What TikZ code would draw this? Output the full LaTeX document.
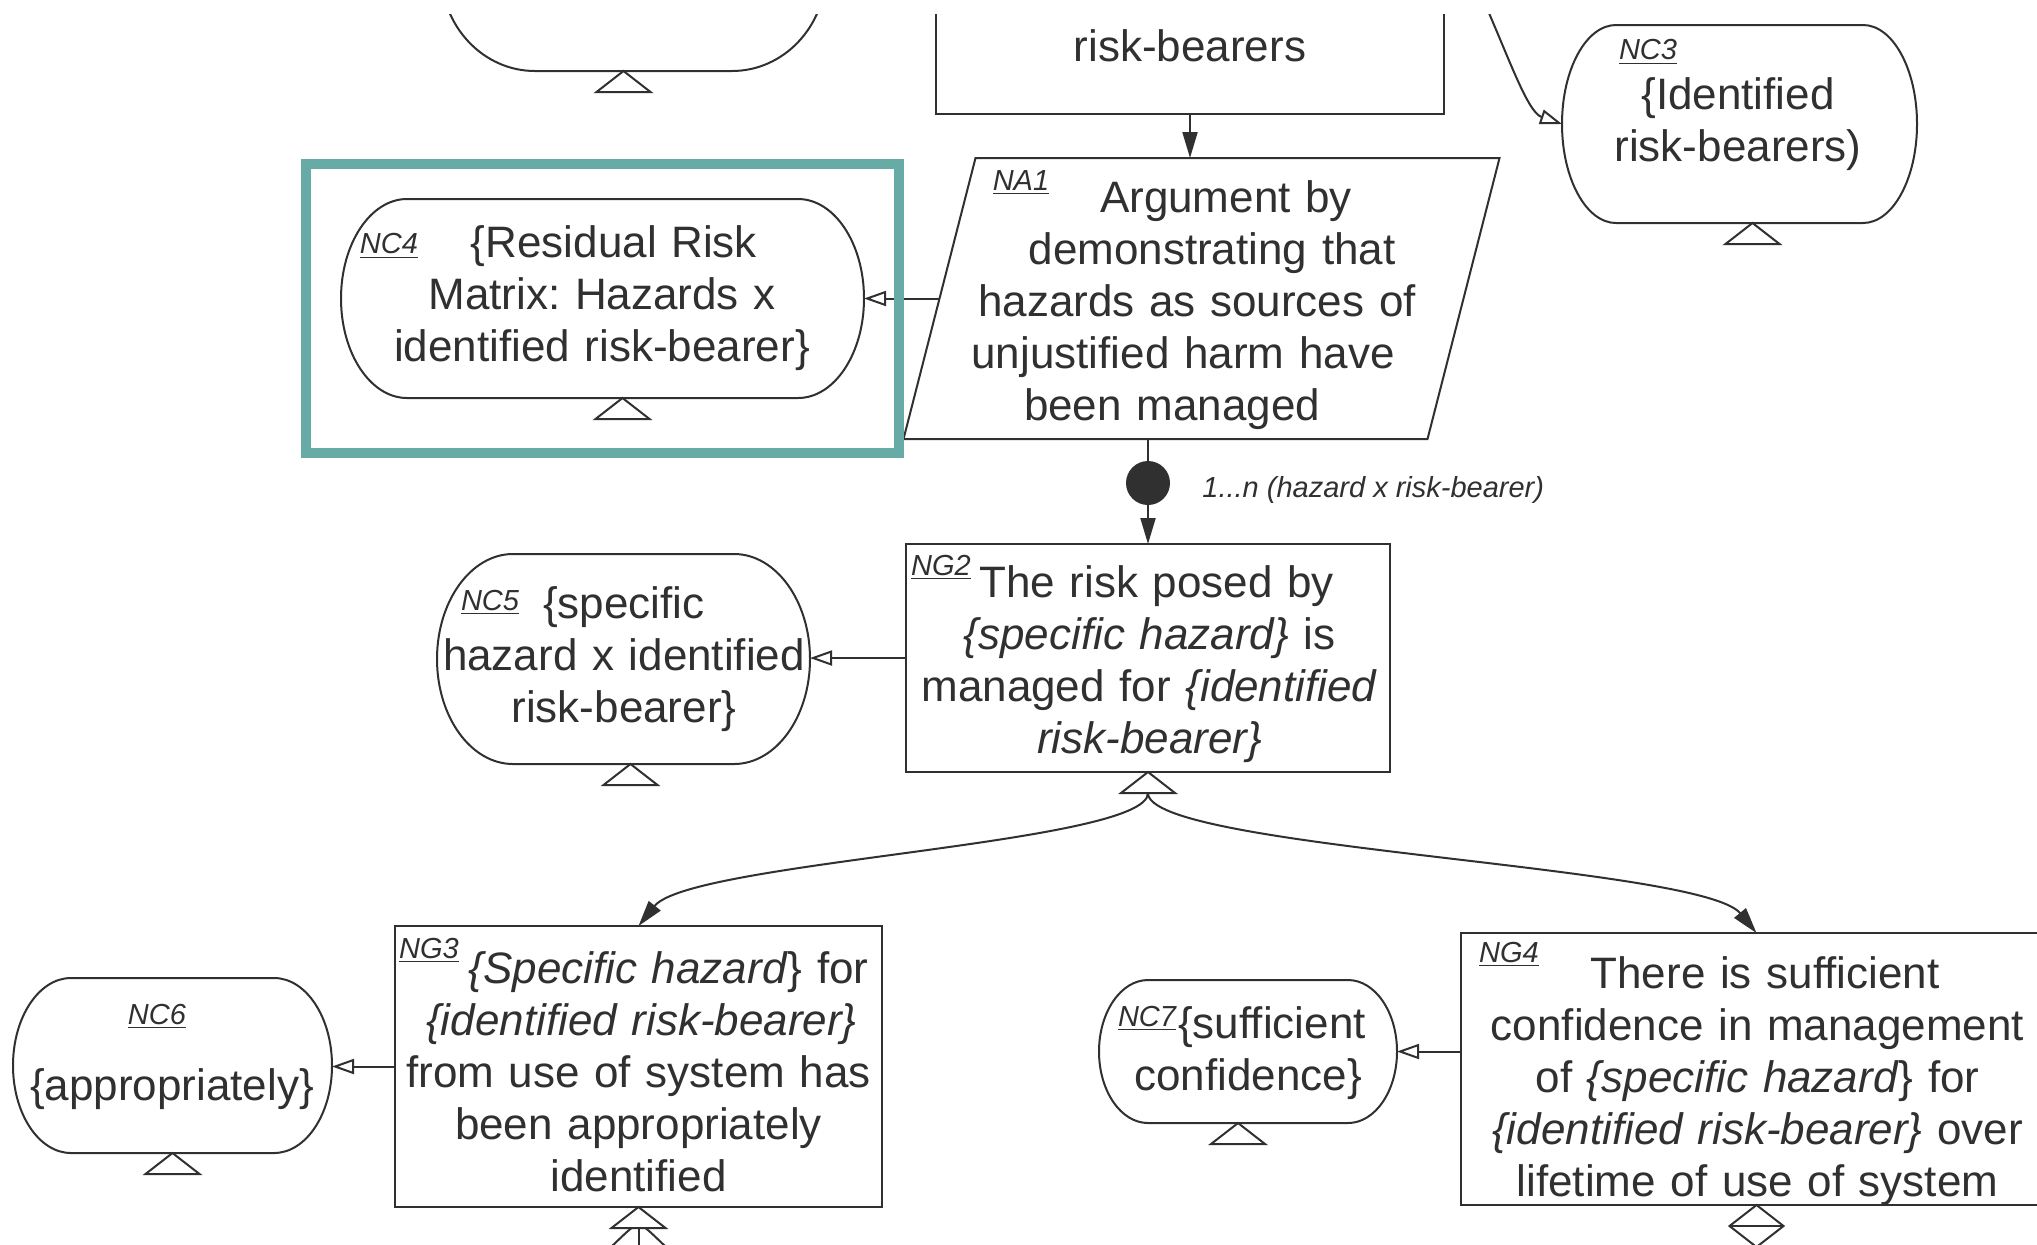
\documentclass[tikz,border=0pt]{standalone}
\usepackage{fontspec}
\setmainfont{Liberation Sans}
\usetikzlibrary{arrows.meta,calc}

\definecolor{ink}{HTML}{303030}
\definecolor{hilite}{HTML}{67ABA6}

% context element: flat top and bottom, half-ellipse ends of x radius #2
\newcommand{\ctxoutline}[2]{%
  \draw[lineink] let \p1=(#1.north west), \p2=(#1.south east), \n1={(\y1-\y2)/2} in
    (\x1+#2,\y1) -- (\x2-#2,\y1)
    arc[start angle=90, end angle=-90, x radius=#2, y radius=\n1]
    -- (\x1+#2,\y2)
    arc[start angle=270, end angle=90, x radius=#2, y radius=\n1] -- cycle;}
% hollow triangle hanging below an element, apex at (#1) shifted sideways by #2
\newcommand{\tribelow}[2]{%
  \draw[lineink] ($(#1)+(#2,0)$) -- ++(-27,21) -- ++(54,0) -- cycle;}

\begin{document}
\begin{tikzpicture}[x=0.5pt, y=-0.5pt,
  lineink/.style={draw=ink, line width=1pt},
  shapebox/.style={inner sep=0pt, outer sep=0pt},
  goalbox/.style={shapebox, lineink},
  ctxbox/.style={shapebox},
  body/.style={font=\fontsize{22}{26}\selectfont\frenchspacing, text=ink, align=center, inner sep=0pt, yshift=-2pt},
  tag/.style={font=\fontsize{14.5}{17}\selectfont\itshape, text=ink, inner sep=0pt},
  solidtip/.style={lineink, -{Triangle[length=13pt, width=7.5pt]}},
  hollowtip/.style={lineink, -{Triangle[open, length=11pt, width=7.5pt]}},
]
\useasboundingbox (0,0) rectangle (2037,1244);
\fill[white] (0,0) rectangle (2037,1244);
\clip (0,14) rectangle (2037,1244);

% ---- upper row (partly outside the frame)
\node[ctxbox, minimum width=192.5pt, minimum height=100pt] (ctxtop) at (633.5,-29) {};
\ctxoutline{ctxtop}{47pt}
\tribelow{ctxtop.south}{-10}

\node[goalbox, minimum width=254pt, minimum height=107pt] (topbox) at (1190,7) {};
\node[body, text width=240pt] (topboxtxt) at (1190,42) {risk-bearers};

\node[ctxbox, minimum width=177.5pt, minimum height=99pt] (nc3) at (1739.5,124) {};
\ctxoutline{nc3}{27pt}
\tribelow{nc3.south}{13}
\node[tag] (nc3tag) at (1648,52) {\underline{NC3}};
\node[body, text width=170pt] (nc3txt) at (1738,120) {\{Identified\\risk-bearers)};

% ---- strategy NA1
\node[shapebox, minimum width=262pt, minimum height=140.5pt] (na1) at (1201.5,298.5) {};
\draw[lineink] ($(na1.north west)+(36,0)$) -- ($(na1.north east)+(36,0)$)
  -- ($(na1.south east)+(-36,0)$) -- ($(na1.south west)+(-36,0)$) -- cycle;
\node[tag] (na1tag) at (1021,183) {\underline{NA1}};
\node[body, text width=250pt] (na1txt) at (1201.5,301.5)
  {\hspace*{24.5pt}Argument by\\\hspace*{10.5pt}demonstrating that\\\hspace*{-4.5pt}hazards as sources of\\\hspace*{-18.5pt}unjustified harm have\\\hspace*{-29.5pt}been managed};

% ---- context NC4
\node[ctxbox, minimum width=261.5pt, minimum height=99.5pt] (nc4) at (602.5,298.5) {};
\ctxoutline{nc4}{33pt}
\tribelow{nc4.south}{20}
\node[tag] (nc4tag) at (389,246) {\underline{NC4}};
\node[body, text width=240pt] (nc4txt) at (602,294)
  {\hspace*{12pt}\{Residual Risk\\Matrix: Hazards x\\identified risk-bearer\}};

% ---- goal NG2 and its context
\node[goalbox, minimum width=242pt, minimum height=114pt] (ng2) at (1148,658) {};
\node[tag] (ng2tag) at (941,567) {\underline{NG2}};
\node[body, text width=236pt] (ng2txt) at (1149.5,660)
  {\hspace*{7pt}The risk posed by\\\textit{\{specific hazard\}} is\\managed for \textit{\{identified}\\\textit{risk-bearer\}}};
\tribelow{ng2.south}{0}
\coordinate (ng2fan) at ($(ng2.south)+(0,21)$);

\node[ctxbox, minimum width=186.5pt, minimum height=105pt] (nc5) at (623.5,659) {};
\ctxoutline{nc5}{38pt}
\tribelow{nc5.south}{7}
\node[tag] (nc5tag) at (490,602) {\underline{NC5}};
\node[body, text width=182pt] (nc5txt) at (624,655) {\{specific\\hazard x identified\\risk-bearer\}};

% ---- multiplicity between NA1 and NG2
\node[shape=circle, fill=ink, minimum size=22pt, inner sep=0pt] (mult) at (1148,483) {};
\node[tag, anchor=west] (multtag) at (1202,490) {1...n (hazard x risk-bearer)};

% ---- goal NG3 and its context
\node[goalbox, minimum width=243.5pt, minimum height=140.5pt] (ng3) at (638.5,1066.5) {};
\node[tag] (ng3tag) at (429,950) {\underline{NG3}};
\node[body, text width=236pt] (ng3txt) at (638.5,1068)
  {\hspace*{30pt}\textit{\{Specific hazard}\} for\\\hspace*{3pt}\textit{\{identified risk-bearer\}}\\from use of system has\\been appropriately\\identified};
\tribelow{ng3.south}{0}
\coordinate (ng3fan) at ($(ng3.south)+(0,20)$);

\node[ctxbox, minimum width=159.5pt, minimum height=87.5pt] (nc6) at (172.5,1065.5) {};
\ctxoutline{nc6}{29pt}
\tribelow{nc6.south}{0}
\node[tag] (nc6tag) at (157,1016) {\underline{NC6}};
\node[body] (nc6txt) at (172,1085) {\{appropriately\}};

% ---- goal NG4 and its context
\node[goalbox, minimum width=295.5pt, minimum height=136pt] (ng4) at (1756.5,1069) {};
\node[tag] (ng4tag) at (1509,954) {\underline{NG4}};
\node[body, text width=285pt] (ng4txt) at (1757.5,1077)
  {\hspace*{7.5pt}There is sufficient\\confidence in management\\of \textit{\{specific hazard}\} for\\\textit{\{identified risk-bearer\}} over\\lifetime of use of system};
\draw[lineink] (ng4.south) -- ++(-27,21) -- ++(27,21) -- ++(27,-21) -- cycle;
\draw[lineink] ($(ng4.south)+(-27,21)$) -- ++(54,0);

\node[ctxbox, minimum width=149pt, minimum height=71.5pt] (nc7) at (1248,1051.5) {};
\ctxoutline{nc7}{24.5pt}
\tribelow{nc7.south}{-10}
\node[tag] (nc7tag) at (1147,1018) {\underline{NC7}};
\node[body, text width=140pt] (nc7txt) at (1248,1049) {\hspace*{24pt}\{sufficient\\confidence\}};

% ---- connectors
\coordinate (feedin) at (1481,-5);
\draw[hollowtip] (feedin) .. controls +(27,60) and +(-35,-12) .. (nc3.west);
\draw[solidtip] (topbox.south) -- (topbox.south |- na1.north);
\draw[hollowtip] (na1.west) -- (nc4.east);
\draw[lineink] (mult |- na1.south) -- (mult);
\draw[solidtip] (mult) -- (ng2.north);
\draw[hollowtip] (ng2.west) -- (ng2.west -| nc5.east);
\draw[solidtip] (ng2fan) .. controls +(0,51) and +(52,-65) .. (ng3.north);
\draw[solidtip] (ng2fan) .. controls +(0,56) and +(-56,-68) .. (ng4.north);
\draw[hollowtip] (ng3.west) -- (ng3.west -| nc6.east);
\draw[hollowtip] (ng4.west |- nc7.east) -- (nc7.east);
\draw[lineink] (ng3fan) -- ++(0,40);
\draw[lineink] ($(ng3fan)+(-7,1)$) .. controls +(-6,5) .. ++(-36,34);
\draw[lineink] ($(ng3fan)+(7,1)$) .. controls +(6,5) .. ++(36,34);

% ---- highlight frame
\node[shapebox, draw=hilite, line width=5.25pt, minimum width=296.5pt, minimum height=144.5pt] (focus) at (602.5,308.5) {};
\end{tikzpicture}
\end{document}
